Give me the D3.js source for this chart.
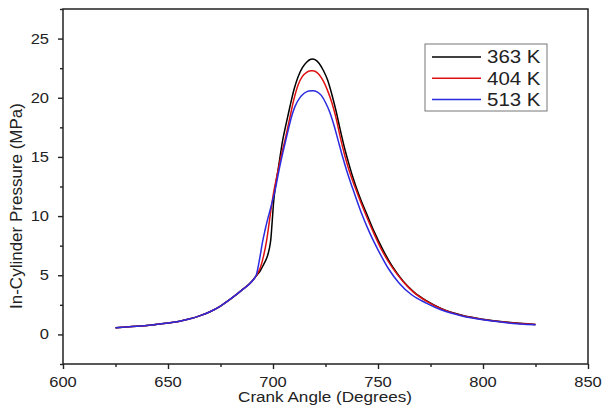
<!DOCTYPE html>
<html>
<head>
<meta charset="utf-8">
<script src="https://cdn.jsdelivr.net/npm/d3@7"></script>
<style>
  html, body { margin: 0; padding: 0; background: #fff; }
  svg { display: block; }
  text { font-family: "Liberation Sans", Arial, sans-serif; fill: #222; }
</style>
</head>
<body>
<svg id="chart" width="603" height="410"></svg>
<script>
// ---- data ----
const seriesLabels = ["363 K", "404 K", "513 K"];
const seriesColors = ["#000000", "#e01010", "#2a2ae0"];

// shared compression stroke (all three curves coincide)
const compAngle = [625, 630, 635, 640, 645, 650, 655, 660, 665, 670, 675, 680, 685, 690];
const compP     = [0.57, 0.62, 0.68, 0.76, 0.86, 0.97, 1.10, 1.30, 1.57, 1.92, 2.40, 3.02, 3.72, 4.50];

const angle363 = [692, 694, 695.5, 697, 698.2, 699.0, 699.6, 700.3, 701, 702.5, 704.6, 706, 708, 710, 712, 714, 716, 718, 719, 720, 722, 724, 726, 728, 730, 732, 734, 736, 738, 740, 742, 744.6, 748, 752.5, 757, 762, 767, 773, 780, 790, 800, 812, 825];
const p363     = [4.95, 5.40, 5.90, 6.45, 7.2, 8.1, 9.5, 11.2, 12.3, 14.0, 16.4, 17.6, 19.2, 20.7, 21.8, 22.55, 23.0, 23.25, 23.28, 23.22, 22.9, 22.3, 21.5, 20.3, 18.9, 17.3, 15.8, 14.5, 13.3, 12.25, 11.3, 10.2, 8.75, 7.1, 5.7, 4.5, 3.6, 2.85, 2.2, 1.62, 1.28, 1.02, 0.84];

const angle404 = [692, 694, 695.4, 697, 698, 699, 700.5, 702, 704, 705.7, 708, 710, 712, 714, 716, 718, 719, 720, 722, 724, 726, 728, 730, 732, 734, 736, 738, 740, 744, 748, 752, 757, 762, 767, 773, 780, 790, 800, 812, 825];
const p404     = [4.95, 5.65, 6.55, 7.97, 9.2, 10.5, 12.2, 13.5, 15.2, 16.4, 18.3, 19.9, 21.1, 21.8, 22.15, 22.28, 22.29, 22.24, 21.95, 21.4, 20.6, 19.6, 18.3, 16.7, 15.25, 14.0, 12.95, 12.0, 10.2, 8.55, 7.05, 5.6, 4.45, 3.55, 2.82, 2.18, 1.6, 1.26, 1.0, 0.83];

const angle513 = [692, 693.8, 695, 696.2, 697.4, 698.6, 701, 703, 705, 707, 709, 710.5, 713, 715, 717, 719, 721, 723, 725, 727, 729, 731, 733, 735, 738, 742, 746, 750, 755, 760, 766, 773, 780, 790, 800, 812, 825];
const p513     = [5.0, 6.55, 7.8, 8.8, 9.7, 10.5, 12.2, 14.0, 15.6, 17.1, 18.5, 19.27, 20.05, 20.4, 20.58, 20.6, 20.5, 20.2, 19.6, 18.8, 17.7, 16.4, 15.1, 13.9, 12.3, 10.3, 8.6, 7.15, 5.55, 4.35, 3.35, 2.65, 2.08, 1.56, 1.23, 0.97, 0.81];

const xTicks = [600, 650, 700, 750, 800, 850];
const xMinor = [625, 675, 725, 775, 825];
const yTicks = [0, 5, 10, 15, 20, 25];
const yMinor = [-2.5, 2.5, 7.5, 12.5, 17.5, 22.5, 27.5];

const xTitle = "Crank Angle (Degrees)";
const yTitle = "In-Cylinder Pressure (MPa)";

// ---- build ----
function zipSeries(a, p) {
  const pts = compAngle.map((x, i) => ({ x, y: compP[i] }));
  return pts.concat(a.map((x, i) => ({ x, y: p[i] })));
}
const series = [
  zipSeries(angle363, p363),
  zipSeries(angle404, p404),
  zipSeries(angle513, p513)
];

const svg = d3.select("#chart");
const L = 63, R = 588, T = 9, B = 364;
const x = d3.scaleLinear().domain([600, 850]).range([L, R]);
const y = d3.scaleLinear().domain([-2.5, 27.5]).range([B, T]);
const SX = 1.18; // horizontal glyph stretch of the reference

// axes (ticks only, labels drawn separately)
function tickAxis(axis, vals, size) {
  return axis.tickValues(vals).tickSize(size).tickFormat("").tickSizeOuter(0);
}
const gx = svg.append("g").attr("transform", `translate(0,${B})`);
gx.call(tickAxis(d3.axisBottom(x), xTicks, 5));
const gx2 = svg.append("g").attr("transform", `translate(0,${B})`);
gx2.call(tickAxis(d3.axisBottom(x), xMinor, 3));
const gy = svg.append("g").attr("transform", `translate(${L},0)`);
gy.call(tickAxis(d3.axisLeft(y), yTicks, 5));
const gy2 = svg.append("g").attr("transform", `translate(${L},0)`);
gy2.call(tickAxis(d3.axisLeft(y), yMinor, 3));
svg.selectAll(".domain").remove();
svg.selectAll(".tick line").attr("stroke", "#222").attr("stroke-width", 1.4);

// frame
svg.append("rect").attr("x", L).attr("y", T).attr("width", R - L).attr("height", B - T)
  .attr("fill", "none").attr("stroke", "#222").attr("stroke-width", 1.5);

// tick labels
svg.append("g").selectAll("text").data(xTicks).join("text")
  .attr("transform", d => `translate(${x(d)},387) scale(${SX},1)`)
  .attr("text-anchor", "middle").attr("font-size", 14).text(d => d);
svg.append("g").selectAll("text").data(yTicks).join("text")
  .attr("transform", d => `translate(49,${y(d) + 5}) scale(${SX},1)`)
  .attr("text-anchor", "end").attr("font-size", 14).text(d => d);

// titles
svg.append("text").attr("transform", `translate(325,402) scale(${SX},1)`)
  .attr("text-anchor", "middle").attr("font-size", 14.5).text(xTitle);
svg.append("text").attr("transform", `translate(22,206) rotate(-90)`)
  .attr("text-anchor", "middle").attr("font-size", 17).text(yTitle);

// lines
const line = d3.line().x(d => x(d.x)).y(d => y(d.y)).curve(d3.curveMonotoneX);
svg.append("g").selectAll("path").data(series).join("path")
  .attr("d", line).attr("fill", "none")
  .attr("stroke", (d, i) => seriesColors[i]).attr("stroke-width", 1.5);

// legend
const lg = svg.append("g");
lg.append("rect").attr("x", 425).attr("y", 44).attr("width", 122).attr("height", 67)
  .attr("fill", "#fff").attr("stroke", "#777").attr("stroke-width", 1);
seriesLabels.forEach((lab, i) => {
  const cy = 57 + i * 21.3;
  lg.append("line").attr("x1", 432).attr("x2", 481).attr("y1", cy).attr("y2", cy)
    .attr("stroke", seriesColors[i]).attr("stroke-width", 1.5);
  lg.append("text").attr("transform", `translate(487,${cy + 6.3}) scale(1.17,1)`)
    .attr("font-size", 17.5).text(lab);
});
</script>
</body>
</html>
